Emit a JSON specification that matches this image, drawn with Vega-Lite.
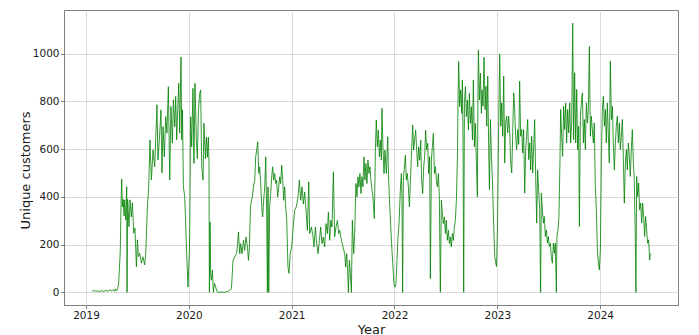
{
"$schema":"https://vega.github.io/schema/vega-lite/v6.json",
"width":614,"height":295,
"autosize":{"type":"none"},
"padding":{"left":64,"top":10,"right":21,"bottom":30},
"background":"white",
"config":{"font":"DejaVu Sans","view":{"stroke":"#808080","strokeWidth":1},
"axis":{"gridColor":"#d0d0d0","gridWidth":0.8,"domainColor":"#808080","tickColor":"#808080","tickSize":3.5,"labelFontSize":10.5,"labelColor":"#1a1a1a","titleFontSize":13,"titleFontWeight":"normal","titleColor":"#1a1a1a","labelPadding":1.5}},
"data":{"values":[
{"t":2019.058,"v":3},{"t":2019.075,"v":8},{"t":2019.094,"v":5},{"t":2019.114,"v":6},{"t":2019.133,"v":3},{"t":2019.153,"v":7},{"t":2019.172,"v":4},{"t":2019.192,"v":8},{"t":2019.211,"v":5},{"t":2019.230,"v":10},{"t":2019.250,"v":6},{"t":2019.269,"v":12},{"t":2019.279,"v":4},{"t":2019.289,"v":14},{"t":2019.299,"v":8},{"t":2019.308,"v":15},{"t":2019.318,"v":40},{"t":2019.333,"v":170},{"t":2019.342,"v":400},{"t":2019.347,"v":475},{"t":2019.354,"v":358},{"t":2019.362,"v":390},{"t":2019.370,"v":320},{"t":2019.376,"v":387},{"t":2019.386,"v":303},{"t":2019.396,"v":443},{"t":2019.399,"v":0},{"t":2019.405,"v":390},{"t":2019.418,"v":275},{"t":2019.428,"v":387},{"t":2019.441,"v":316},{"t":2019.451,"v":375},{"t":2019.464,"v":248},{"t":2019.476,"v":269},{"t":2019.490,"v":107},{"t":2019.500,"v":220},{"t":2019.509,"v":149},{"t":2019.522,"v":164},{"t":2019.539,"v":122},{"t":2019.554,"v":149},{"t":2019.571,"v":115},{"t":2019.581,"v":164},{"t":2019.597,"v":358},{"t":2019.610,"v":443},{"t":2019.622,"v":639},{"t":2019.636,"v":471},{"t":2019.652,"v":597},{"t":2019.668,"v":526},{"t":2019.678,"v":639},{"t":2019.690,"v":786},{"t":2019.700,"v":555},{"t":2019.717,"v":667},{"t":2019.729,"v":765},{"t":2019.739,"v":500},{"t":2019.749,"v":694},{"t":2019.762,"v":568},{"t":2019.775,"v":737},{"t":2019.787,"v":667},{"t":2019.801,"v":862},{"t":2019.814,"v":471},{"t":2019.826,"v":779},{"t":2019.840,"v":625},{"t":2019.850,"v":807},{"t":2019.863,"v":694},{"t":2019.872,"v":821},{"t":2019.882,"v":639},{"t":2019.892,"v":765},{"t":2019.902,"v":877},{"t":2019.911,"v":667},{"t":2019.924,"v":986},{"t":2019.931,"v":640},{"t":2019.938,"v":765},{"t":2019.947,"v":443},{"t":2019.960,"v":400},{"t":2019.977,"v":190},{"t":2019.992,"v":22},{"t":2020.006,"v":180},{"t":2020.011,"v":380},{"t":2020.018,"v":736},{"t":2020.028,"v":610},{"t":2020.040,"v":855},{"t":2020.050,"v":540},{"t":2020.060,"v":876},{"t":2020.073,"v":640},{"t":2020.083,"v":560},{"t":2020.093,"v":760},{"t":2020.106,"v":834},{"t":2020.115,"v":848},{"t":2020.125,"v":526},{"t":2020.138,"v":470},{"t":2020.147,"v":708},{"t":2020.161,"v":560},{"t":2020.171,"v":650},{"t":2020.180,"v":566},{"t":2020.190,"v":650},{"t":2020.196,"v":540},{"t":2020.200,"v":0},{"t":2020.206,"v":295},{"t":2020.212,"v":80},{"t":2020.219,"v":51},{"t":2020.229,"v":93},{"t":2020.239,"v":0},{"t":2020.249,"v":38},{"t":2020.261,"v":23},{"t":2020.274,"v":3},{"t":2020.290,"v":0},{"t":2020.320,"v":1},{"t":2020.349,"v":0},{"t":2020.378,"v":4},{"t":2020.397,"v":8},{"t":2020.414,"v":15},{"t":2020.430,"v":134},{"t":2020.446,"v":148},{"t":2020.463,"v":162},{"t":2020.472,"v":190},{"t":2020.482,"v":253},{"t":2020.495,"v":162},{"t":2020.504,"v":204},{"t":2020.517,"v":162},{"t":2020.531,"v":218},{"t":2020.543,"v":176},{"t":2020.556,"v":232},{"t":2020.570,"v":190},{"t":2020.580,"v":134},{"t":2020.589,"v":190},{"t":2020.599,"v":358},{"t":2020.609,"v":386},{"t":2020.618,"v":400},{"t":2020.628,"v":442},{"t":2020.641,"v":470},{"t":2020.650,"v":568},{"t":2020.660,"v":596},{"t":2020.670,"v":631},{"t":2020.680,"v":498},{"t":2020.689,"v":526},{"t":2020.699,"v":456},{"t":2020.709,"v":358},{"t":2020.718,"v":316},{"t":2020.728,"v":386},{"t":2020.738,"v":442},{"t":2020.748,"v":568},{"t":2020.757,"v":330},{"t":2020.764,"v":0},{"t":2020.770,"v":442},{"t":2020.777,"v":0},{"t":2020.786,"v":358},{"t":2020.796,"v":414},{"t":2020.806,"v":484},{"t":2020.815,"v":526},{"t":2020.825,"v":470},{"t":2020.835,"v":498},{"t":2020.845,"v":456},{"t":2020.854,"v":470},{"t":2020.864,"v":400},{"t":2020.874,"v":442},{"t":2020.884,"v":484},{"t":2020.893,"v":456},{"t":2020.903,"v":533},{"t":2020.913,"v":470},{"t":2020.922,"v":386},{"t":2020.932,"v":442},{"t":2020.942,"v":358},{"t":2020.952,"v":302},{"t":2020.964,"v":106},{"t":2020.974,"v":80},{"t":2020.986,"v":162},{"t":2021.000,"v":190},{"t":2021.015,"v":275},{"t":2021.029,"v":344},{"t":2021.046,"v":360},{"t":2021.062,"v":400},{"t":2021.075,"v":470},{"t":2021.088,"v":386},{"t":2021.101,"v":442},{"t":2021.114,"v":370},{"t":2021.127,"v":420},{"t":2021.137,"v":360},{"t":2021.153,"v":260},{"t":2021.166,"v":463},{"t":2021.175,"v":246},{"t":2021.192,"v":274},{"t":2021.208,"v":232},{"t":2021.217,"v":190},{"t":2021.231,"v":274},{"t":2021.240,"v":218},{"t":2021.256,"v":162},{"t":2021.270,"v":218},{"t":2021.282,"v":274},{"t":2021.295,"v":204},{"t":2021.308,"v":232},{"t":2021.321,"v":190},{"t":2021.334,"v":288},{"t":2021.347,"v":246},{"t":2021.357,"v":337},{"t":2021.370,"v":218},{"t":2021.380,"v":302},{"t":2021.392,"v":274},{"t":2021.406,"v":505},{"t":2021.418,"v":232},{"t":2021.431,"v":274},{"t":2021.445,"v":302},{"t":2021.457,"v":246},{"t":2021.467,"v":260},{"t":2021.484,"v":218},{"t":2021.499,"v":190},{"t":2021.516,"v":162},{"t":2021.525,"v":106},{"t":2021.535,"v":162},{"t":2021.545,"v":78},{"t":2021.552,"v":0},{"t":2021.561,"v":134},{"t":2021.571,"v":78},{"t":2021.581,"v":0},{"t":2021.590,"v":302},{"t":2021.603,"v":162},{"t":2021.613,"v":246},{"t":2021.625,"v":456},{"t":2021.635,"v":400},{"t":2021.645,"v":484},{"t":2021.654,"v":442},{"t":2021.664,"v":498},{"t":2021.674,"v":414},{"t":2021.683,"v":484},{"t":2021.693,"v":442},{"t":2021.703,"v":568},{"t":2021.713,"v":470},{"t":2021.722,"v":540},{"t":2021.732,"v":456},{"t":2021.742,"v":554},{"t":2021.752,"v":498},{"t":2021.761,"v":526},{"t":2021.771,"v":470},{"t":2021.781,"v":428},{"t":2021.790,"v":400},{"t":2021.804,"v":309},{"t":2021.814,"v":596},{"t":2021.823,"v":722},{"t":2021.833,"v":610},{"t":2021.843,"v":680},{"t":2021.853,"v":568},{"t":2021.862,"v":638},{"t":2021.872,"v":554},{"t":2021.878,"v":771},{"t":2021.888,"v":610},{"t":2021.898,"v":498},{"t":2021.907,"v":596},{"t":2021.921,"v":498},{"t":2021.934,"v":652},{"t":2021.943,"v":470},{"t":2021.953,"v":372},{"t":2021.970,"v":218},{"t":2021.985,"v":106},{"t":2021.995,"v":36},{"t":2022.005,"v":22},{"t":2022.014,"v":36},{"t":2022.024,"v":134},{"t":2022.034,"v":232},{"t":2022.044,"v":288},{"t":2022.057,"v":428},{"t":2022.067,"v":498},{"t":2022.073,"v":386},{"t":2022.079,"v":0},{"t":2022.086,"v":470},{"t":2022.096,"v":526},{"t":2022.106,"v":575},{"t":2022.115,"v":470},{"t":2022.125,"v":498},{"t":2022.135,"v":442},{"t":2022.145,"v":358},{"t":2022.154,"v":456},{"t":2022.164,"v":568},{"t":2022.177,"v":701},{"t":2022.186,"v":596},{"t":2022.196,"v":638},{"t":2022.206,"v":680},{"t":2022.216,"v":596},{"t":2022.225,"v":526},{"t":2022.235,"v":610},{"t":2022.245,"v":554},{"t":2022.255,"v":638},{"t":2022.264,"v":470},{"t":2022.274,"v":414},{"t":2022.284,"v":526},{"t":2022.293,"v":568},{"t":2022.303,"v":680},{"t":2022.313,"v":596},{"t":2022.323,"v":624},{"t":2022.332,"v":498},{"t":2022.342,"v":568},{"t":2022.349,"v":57},{"t":2022.359,"v":554},{"t":2022.368,"v":610},{"t":2022.378,"v":666},{"t":2022.388,"v":498},{"t":2022.398,"v":526},{"t":2022.407,"v":470},{"t":2022.417,"v":442},{"t":2022.427,"v":498},{"t":2022.436,"v":400},{"t":2022.446,"v":0},{"t":2022.456,"v":386},{"t":2022.466,"v":330},{"t":2022.475,"v":288},{"t":2022.485,"v":316},{"t":2022.495,"v":246},{"t":2022.504,"v":302},{"t":2022.514,"v":218},{"t":2022.524,"v":260},{"t":2022.534,"v":204},{"t":2022.543,"v":232},{"t":2022.553,"v":190},{"t":2022.563,"v":246},{"t":2022.573,"v":218},{"t":2022.582,"v":274},{"t":2022.592,"v":302},{"t":2022.602,"v":386},{"t":2022.612,"v":568},{"t":2022.618,"v":806},{"t":2022.624,"v":967},{"t":2022.634,"v":778},{"t":2022.644,"v":848},{"t":2022.654,"v":750},{"t":2022.660,"v":890},{"t":2022.666,"v":680},{"t":2022.673,"v":0},{"t":2022.680,"v":792},{"t":2022.690,"v":862},{"t":2022.699,"v":736},{"t":2022.709,"v":806},{"t":2022.719,"v":680},{"t":2022.728,"v":834},{"t":2022.738,"v":708},{"t":2022.748,"v":778},{"t":2022.758,"v":638},{"t":2022.767,"v":890},{"t":2022.777,"v":610},{"t":2022.787,"v":708},{"t":2022.797,"v":540},{"t":2022.806,"v":400},{"t":2022.812,"v":890},{"t":2022.816,"v":1016},{"t":2022.826,"v":806},{"t":2022.836,"v":918},{"t":2022.845,"v":750},{"t":2022.851,"v":848},{"t":2022.861,"v":780},{"t":2022.871,"v":985},{"t":2022.881,"v":766},{"t":2022.890,"v":864},{"t":2022.897,"v":696},{"t":2022.907,"v":906},{"t":2022.916,"v":600},{"t":2022.923,"v":430},{"t":2022.933,"v":724},{"t":2022.943,"v":570},{"t":2022.953,"v":458},{"t":2022.965,"v":276},{"t":2022.975,"v":150},{"t":2022.985,"v":122},{"t":2022.992,"v":108},{"t":2023.001,"v":262},{"t":2023.011,"v":626},{"t":2023.017,"v":836},{"t":2023.023,"v":997},{"t":2023.033,"v":696},{"t":2023.042,"v":794},{"t":2023.052,"v":654},{"t":2023.062,"v":906},{"t":2023.072,"v":542},{"t":2023.081,"v":710},{"t":2023.091,"v":738},{"t":2023.101,"v":668},{"t":2023.110,"v":738},{"t":2023.120,"v":682},{"t":2023.130,"v":542},{"t":2023.140,"v":500},{"t":2023.149,"v":654},{"t":2023.159,"v":836},{"t":2023.169,"v":766},{"t":2023.178,"v":654},{"t":2023.188,"v":598},{"t":2023.198,"v":682},{"t":2023.208,"v":620},{"t":2023.217,"v":885},{"t":2023.227,"v":654},{"t":2023.237,"v":682},{"t":2023.246,"v":584},{"t":2023.256,"v":682},{"t":2023.266,"v":416},{"t":2023.276,"v":598},{"t":2023.285,"v":654},{"t":2023.295,"v":724},{"t":2023.305,"v":556},{"t":2023.315,"v":626},{"t":2023.324,"v":514},{"t":2023.334,"v":654},{"t":2023.344,"v":500},{"t":2023.353,"v":598},{"t":2023.363,"v":724},{"t":2023.373,"v":486},{"t":2023.383,"v":290},{"t":2023.392,"v":514},{"t":2023.402,"v":430},{"t":2023.412,"v":346},{"t":2023.421,"v":0},{"t":2023.428,"v":416},{"t":2023.438,"v":346},{"t":2023.448,"v":290},{"t":2023.457,"v":318},{"t":2023.467,"v":234},{"t":2023.477,"v":262},{"t":2023.487,"v":206},{"t":2023.496,"v":234},{"t":2023.506,"v":192},{"t":2023.516,"v":206},{"t":2023.525,"v":150},{"t":2023.535,"v":122},{"t":2023.545,"v":206},{"t":2023.555,"v":164},{"t":2023.564,"v":206},{"t":2023.574,"v":0},{"t":2023.580,"v":234},{"t":2023.590,"v":262},{"t":2023.599,"v":318},{"t":2023.609,"v":542},{"t":2023.616,"v":766},{"t":2023.626,"v":654},{"t":2023.635,"v":570},{"t":2023.645,"v":780},{"t":2023.655,"v":682},{"t":2023.665,"v":794},{"t":2023.674,"v":626},{"t":2023.684,"v":766},{"t":2023.694,"v":668},{"t":2023.704,"v":794},{"t":2023.713,"v":626},{"t":2023.723,"v":710},{"t":2023.733,"v":1128},{"t":2023.742,"v":640},{"t":2023.752,"v":920},{"t":2023.762,"v":626},{"t":2023.772,"v":850},{"t":2023.781,"v":598},{"t":2023.791,"v":696},{"t":2023.798,"v":276},{"t":2023.808,"v":738},{"t":2023.817,"v":794},{"t":2023.827,"v":836},{"t":2023.837,"v":626},{"t":2023.846,"v":724},{"t":2023.856,"v":598},{"t":2023.866,"v":794},{"t":2023.876,"v":710},{"t":2023.885,"v":766},{"t":2023.895,"v":1030},{"t":2023.905,"v":654},{"t":2023.914,"v":738},{"t":2023.924,"v":682},{"t":2023.934,"v":626},{"t":2023.943,"v":710},{"t":2023.953,"v":444},{"t":2023.963,"v":346},{"t":2023.973,"v":178},{"t":2023.983,"v":122},{"t":2023.992,"v":94},{"t":2024.002,"v":178},{"t":2024.012,"v":556},{"t":2024.021,"v":766},{"t":2024.031,"v":822},{"t":2024.041,"v":696},{"t":2024.051,"v":766},{"t":2024.060,"v":626},{"t":2024.070,"v":794},{"t":2024.080,"v":654},{"t":2024.089,"v":542},{"t":2024.099,"v":969},{"t":2024.109,"v":724},{"t":2024.119,"v":780},{"t":2024.128,"v":626},{"t":2024.138,"v":514},{"t":2024.148,"v":626},{"t":2024.157,"v":696},{"t":2024.167,"v":738},{"t":2024.177,"v":626},{"t":2024.187,"v":710},{"t":2024.196,"v":598},{"t":2024.206,"v":654},{"t":2024.216,"v":724},{"t":2024.225,"v":570},{"t":2024.235,"v":374},{"t":2024.245,"v":542},{"t":2024.255,"v":598},{"t":2024.264,"v":514},{"t":2024.274,"v":626},{"t":2024.284,"v":570},{"t":2024.293,"v":486},{"t":2024.303,"v":598},{"t":2024.313,"v":682},{"t":2024.323,"v":542},{"t":2024.332,"v":472},{"t":2024.342,"v":220},{"t":2024.348,"v":0},{"t":2024.355,"v":486},{"t":2024.365,"v":402},{"t":2024.374,"v":458},{"t":2024.384,"v":346},{"t":2024.394,"v":374},{"t":2024.404,"v":290},{"t":2024.413,"v":374},{"t":2024.423,"v":318},{"t":2024.433,"v":234},{"t":2024.442,"v":318},{"t":2024.452,"v":262},{"t":2024.462,"v":206},{"t":2024.472,"v":220},{"t":2024.481,"v":136},{"t":2024.488,"v":164}
]},
"mark":{"type":"line","color":"green","strokeWidth":0.8},
"encoding":{
"x":{"field":"t","type":"quantitative","scale":{"domain":[2018.786,2024.757],"nice":false,"zero":false},"axis":{"values":[2019,2020,2021,2022,2023,2024],"format":"d","title":"Year","titleY":28,"titleBaseline":"alphabetic"}},
"y":{"field":"v","type":"quantitative","scale":{"domain":[-53,1183],"nice":false,"zero":false},"axis":{"values":[0,200,400,600,800,1000],"format":"d","title":"Unique customers","titleX":-39,"titleY":160,"titleBaseline":"middle"}}
}
}
